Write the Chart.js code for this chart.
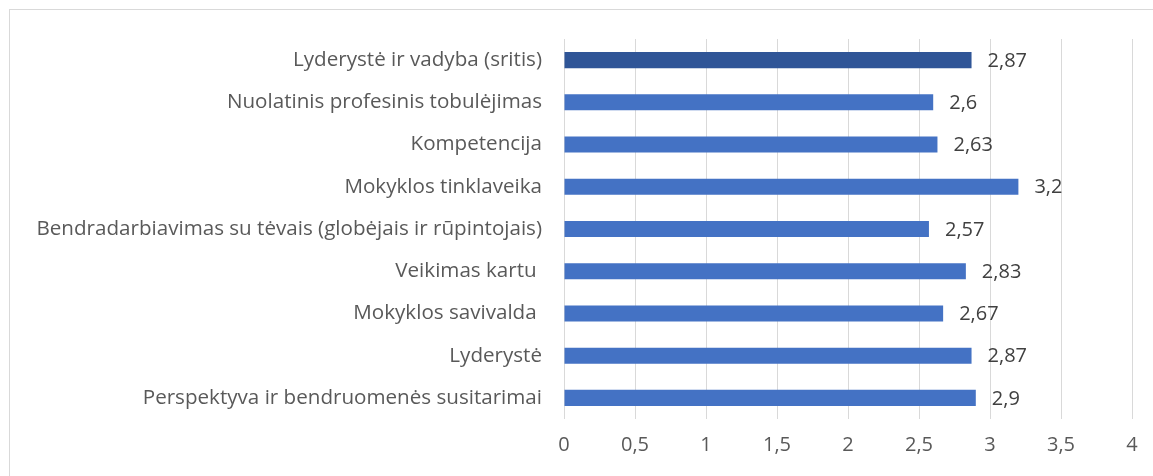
<!DOCTYPE html>
<html lang="lt">
<head>
    <meta charset="UTF-8">
    <title>Sritys</title>
    <script src="https://cdn.jsdelivr.net/npm/chart.js@4"></script>
    <style>
        html, body { margin: 0; padding: 0; background: #fff; overflow: hidden; }
        .frame {
            position: absolute; left: 9px; top: 9px; width: 1200px; height: 500px;
            border: 1px solid #d9d9d9;
        }
        .wrap { position: absolute; left: 0; top: 0; width: 1153px; height: 476px; }
    </style>
</head>
<body>
    <div class="frame"></div>
    <div class="wrap"><canvas id="chart"></canvas></div>

    <script>
        // Data
        const categories = [
            'Lyderystė ir vadyba (sritis)',
            'Nuolatinis profesinis tobulėjimas',
            'Kompetencija',
            'Mokyklos tinklaveika',
            'Bendradarbiavimas su tėvais (globėjais ir rūpintojais)',
            'Veikimas kartu ',
            'Mokyklos savivalda ',
            'Lyderystė',
            'Perspektyva ir bendruomenės susitarimai'
        ];
        const values = [2.87, 2.6, 2.63, 3.2, 2.57, 2.83, 2.67, 2.87, 2.9];
        const barColors = ['#2F5597', '#4472C4', '#4472C4', '#4472C4', '#4472C4', '#4472C4', '#4472C4', '#4472C4', '#4472C4'];
        const xTicks = [0, 0.5, 1, 1.5, 2, 2.5, 3, 3.5, 4];

        const fmt = v => String(v).replace('.', ',');
        const FONT = '"Open Sans", Lato, sans-serif';

        // value labels at the end of each bar
        const valueLabels = {
            id: 'valueLabels',
            afterDatasetsDraw(chart) {
                const ctx = chart.ctx;
                const meta = chart.getDatasetMeta(0);
                ctx.save();
                ctx.font = '20px ' + FONT;
                ctx.fillStyle = '#404040';
                ctx.textAlign = 'left';
                ctx.textBaseline = 'middle';
                meta.data.forEach((bar, i) => {
                    ctx.fillText(fmt(values[i]), bar.x + 16, bar.y + 1);
                });
                ctx.restore();
            }
        };

        new Chart(document.getElementById('chart'), {
            type: 'bar',
            data: {
                labels: categories,
                datasets: [{
                    data: values,
                    backgroundColor: barColors,
                    barPercentage: 0.76,
                    categoryPercentage: 0.5
                }]
            },
            options: {
                indexAxis: 'y',
                responsive: true,
                maintainAspectRatio: false,
                animation: false,
                layout: { padding: { top: 39, right: 21, bottom: 0, left: 0 } },
                plugins: {
                    legend: { display: false },
                    tooltip: { enabled: false }
                },
                scales: {
                    x: {
                        min: 0,
                        max: 4,
                        afterBuildTicks(scale) {
                            scale.ticks = xTicks.map(v => ({ value: v }));
                        },
                        afterFit(scale) { scale.height = 57; },
                        grid: { color: '#d9d9d9', lineWidth: 1, drawTicks: false },
                        border: { display: false },
                        ticks: {
                            padding: 14,
                            color: '#595959',
                            font: { family: FONT, size: 20 },
                            callback: v => fmt(v)
                        }
                    },
                    y: {
                        afterFit(scale) { scale.width = 564; },
                        grid: { display: false, drawTicks: false },
                        border: { display: false },
                        ticks: {
                            padding: 22,
                            color: '#595959',
                            font: { family: FONT, size: 20.6 }
                        }
                    }
                }
            },
            plugins: [valueLabels]
        });
    </script>
</body>
</html>
